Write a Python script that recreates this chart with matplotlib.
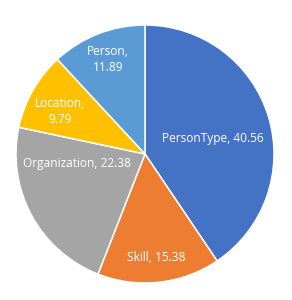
import numpy as np
import matplotlib.pyplot as plt

plt.rcParams['font.family'] = ['Open Sans', 'DejaVu Sans']

labels = ['PersonType', 'Skill', 'Organization', 'Location', 'Person']
values = [40.56, 15.38, 22.38, 9.79, 11.89]
colors = ['#4472C4', '#ED7D31', '#A5A5A5', '#FFC000', '#5B9BD5']

# label placement (radius fraction, angle shift in degrees), like Excel's best fit
label_r = [0.54, 0.81, 0.53, 0.74, 0.785]
label_shift = [-4, 0, -20, 3, 0]
label_text = ['PersonType, 40.56', 'Skill, 15.38', 'Organization, 22.38',
              'Location,\n9.79', 'Person,\n11.89']

fig = plt.figure(figsize=(2.92, 3.0), dpi=100)
ax = fig.add_axes([0.0548, 0.0567, 0.8836, 0.86])
wedges, _ = ax.pie(values, colors=colors, startangle=90, counterclock=False,
                   radius=1, wedgeprops=dict(edgecolor='white', linewidth=1.1))

for w, r, s, t in zip(wedges, label_r, label_shift, label_text):
    ang = np.deg2rad((w.theta1 + w.theta2) / 2 + s)
    ax.text(r * np.cos(ang), r * np.sin(ang), t, ha='center', va='center',
            color='white', fontsize=8.6, linespacing=1.35)

ax.set_xlim(-1, 1)
ax.set_ylim(-1, 1)
ax.set_aspect('equal')
ax.axis('off')
fig.savefig('out.png', dpi=100)
